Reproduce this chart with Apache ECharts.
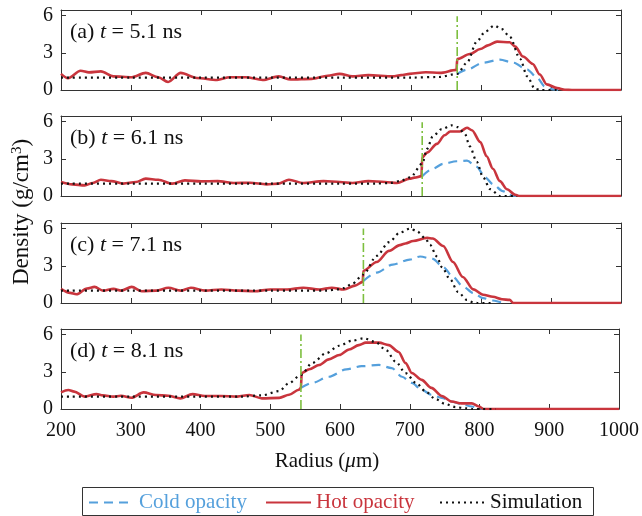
<!DOCTYPE html>
<html><head><meta charset="utf-8">
<script src="https://cdn.jsdelivr.net/npm/echarts@6/dist/echarts.min.js"></script>
<style>html,body{margin:0;padding:0;background:#fff}#c{width:642px;height:516px}</style>
</head><body><div id="c"></div>
<script>
// ---- data ----
const xTicks = [200,300,400,500,600,700,800,900,1000];
const yTicks = [0,3,6];
const panelLetters = ['(a)','(b)','(c)','(d)'];
const panelTimes = ['5.1','6.1','7.1','8.1'];
const frontRadius = [766,716,632,544];
const frontTop = [5.95,5.95,6.0,6.0];

const hotA = [[200,1.3],[210,0.95],[228,1.55],[240,1.42],[257,1.5],[275,1.1],[301,1.03],[321,1.38],[339,1.03],[353,0.65],[371,1.38],[394,0.97],[423,0.81],[441,1.03],[464,1.03],[488,0.81],[511,1.1],[528,0.85],[558,0.9],[581,1.15],[598,1.3],[616,1.1],[639,1.2],[674,1.1],[686,1.2],[698,1.3],[721,1.43],[741,1.38],[765,1.62],[766,2.5],[784,2.9],[799,3.3],[810,3.6],[823,3.9],[841,3.85],[849,3.5],[860,2.7],[874,2.1],[884,1.25],[894,0.45],[909,0.15],[920,0.02],[930,0],[1000,0]];
const coldA = [[766,1.3],[780,1.65],[803,2.2],[827,2.45],[846,2.2],[866,1.65],[880,1.0],[891,0.3],[903,0.05],[910,0]];
const simA = [[200,1],[300,1],[400,1],[500,1],[600,1],[700,1],[740,1.05],[766,1.3],[780,2.2],[794,3.9],[806,4.7],[819,5.2],[830,4.9],[841,4.3],[856,2.5],[866,1.1],[877,0.1],[885,0],[910,0]];

const hotB = [[200,1.13],[216,0.94],[234,0.86],[245.5,1.05],[257,1.31],[272,1.2],[289,1.0],[307,1.13],[321,1.4],[339,1.31],[359,1.0],[377,1.26],[400,1.18],[423.5,1.2],[447,1.05],[470,1.07],[493.5,0.94],[511,1.0],[525.6,1.31],[546,1.05],[575,1.2],[598.5,1.13],[616,1.05],[639,1.2],[663,1.13],[680,1.05],[698,1.4],[705,1.48],[715,1.6],[716,3.1],[723,3.5],[737,4.2],[748,4.9],[756,5.2],[770,5.2],[780,5.5],[787,5.3],[799,4.35],[808,3.2],[817,2.2],[827,1.2],[837,0.55],[849,0.1],[855,0],[1000,0]];
const coldB = [[716,1.6],[731,2.2],[746,2.6],[765,2.8],[780,2.85],[794,2.35],[806,1.5],[817,0.95],[831,0.4],[844,0.05],[850,0]];
const simB = [[200,1],[300,1],[400,1],[500,1],[600,1],[650,1.0],[670,1.05],[684,1.2],[699,1.5],[716,2.6],[723,3.8],[731,4.8],[744,5.4],[758,5.7],[767,5.55],[777,5.0],[784,4.0],[794,2.75],[803,1.5],[813,0.55],[827,0],[850,0]];

const hotC = [[200,1.14],[213,0.82],[222,0.7],[237,1.17],[248,1.3],[260,1.0],[275,1.14],[286,1.0],[301,1.3],[315.5,0.95],[336,1.0],[353.5,1.23],[371,1.0],[385.6,1.23],[406,1.0],[429,1.09],[452.6,1.0],[476,0.95],[499,1.09],[523,1.09],[546,1.23],[569,1.09],[587,1.23],[604,1.09],[620,1.4],[631,1.7],[632,2.6],[651,3.3],[668.5,4.2],[684,4.67],[692,4.8],[703,5.0],[723,5.25],[731,5.2],[746,4.6],[760,3.3],[774,2.1],[789,1.1],[803,0.67],[817,0.5],[830,0.3],[841,0.25],[846,0],[1000,0]];
const coldC = [[632,1.77],[651,2.45],[674,3.1],[698,3.5],[713,3.75],[731,3.55],[746,2.9],[760,2.1],[774,1.35],[789,0.8],[803,0.4],[817,0.2],[831,0.05],[836,0]];
const simC = [[200,1],[300,1],[400,1],[500,1],[580,1.0],[595,1.1],[604,1.2],[616,1.55],[632,2.3],[651,3.8],[668.5,4.9],[684,5.67],[699,6.0],[708,5.8],[720,5.25],[727,4.7],[737,3.75],[744,2.9],[756,1.9],[767,0.9],[780,0.25],[789,0.05],[795,0],[817,0]];

const hotD = [[200,1.34],[210.5,1.53],[219,1.4],[234,1.0],[251,1.2],[260,1.1],[275,1.0],[286,1.07],[301,0.91],[318.5,1.34],[336,1.13],[353.5,1.07],[371,0.86],[388.5,1.2],[406,1.05],[429,1.05],[452.6,1.0],[470,1.13],[488,0.86],[513,0.9],[527,1.15],[541,1.55],[544,1.7],[545,2.9],[556,3.2],[570,3.55],[584,4.0],[599,4.35],[613,4.8],[627,5.15],[637,5.35],[656,5.35],[670,5.15],[684,4.6],[694,3.7],[703,2.9],[717,2.35],[731,1.7],[746,1.05],[760,0.6],[774,0.45],[789,0.45],[799,0.2],[806,0],[1000,0]];
const coldD = [[544,1.7],[560,2.1],[584,2.6],[609,3.2],[631,3.45],[656,3.55],[674,3.3],[689,2.6],[703,2.1],[717,1.55],[731,1.15],[746,0.9],[760,0.6],[774,0.4],[789,0.2],[799,0.05],[805,0]];
const simD = [[200,1],[300,1],[400,1],[460,1.0],[488,1.1],[513,1.45],[527,2.1],[544,2.75],[560,3.7],[580,4.5],[599,5.1],[617,5.5],[634,5.7],[651,5.4],[666,4.75],[680,3.8],[694,2.9],[709,2.1],[723,1.4],[737,0.8],[751,0.4],[766,0.15],[780,0.05],[790,0],[823,0]];

const hotAll = [hotA,hotB,hotC,hotD];
const coldAll = [coldA,coldB,coldC,coldD];
const simAll = [simA,simB,simC,simD];

// ---- layout / style ----
const FONT = 'Liberation Serif';
const RED = '#c9353d', BLUE = '#55a0dc', BLACK = '#111', GREEN = '#7dbf3f', AX = '#333';
const tops = [10, 116, 223, 329];
const H = 80, L = 61, W = 560;
const YMAX = 6.45;

const grids = [], xAxes = [], yAxes = [], series = [], graphics = [];
for (let i = 0; i < 4; i++) {
  grids.push({left: L, top: tops[i], width: W, height: H});
  const last = i === 3;
  xAxes.push({type:'value', gridIndex:i, min:xTicks[0], max:xTicks[xTicks.length-1], interval:xTicks[1]-xTicks[0],
    axisLine:{show:true, onZero:false, lineStyle:{color:AX, width:1}},
    axisTick:{show:true, inside:true, length:5, lineStyle:{color:AX}},
    axisLabel:{show:last, fontFamily:FONT, fontSize:20, color:'#111', margin:12, formatter: v => String(v)},
    splitLine:{show:false}});
  yAxes.push({type:'value', gridIndex:i, min:0, max:YMAX,
    axisLine:{show:true, lineStyle:{color:AX, width:1}},
    axisTick:{show:true, inside:true, length:5, lineStyle:{color:AX}, customValues: yTicks},
    axisLabel:{fontFamily:FONT, fontSize:20, color:'#111', margin:8, customValues: yTicks},
    splitLine:{show:false}});
}
for (let i = 0; i < 4; i++) {
  xAxes.push({type:'value', gridIndex:i, position:'top', min:xTicks[0], max:xTicks[xTicks.length-1], interval:xTicks[1]-xTicks[0],
    axisLine:{show:true, onZero:false, lineStyle:{color:AX, width:1}},
    axisTick:{show:true, inside:true, length:5, lineStyle:{color:AX}},
    axisLabel:{show:false}, splitLine:{show:false}});
  yAxes.push({type:'value', gridIndex:i, position:'right', min:0, max:YMAX,
    axisLine:{show:true, onZero:false, lineStyle:{color:AX, width:1}},
    axisTick:{show:true, inside:true, length:5, lineStyle:{color:AX}, customValues: yTicks},
    axisLabel:{show:false, customValues: yTicks}, splitLine:{show:false}});
}
for (let i = 0; i < 4; i++) {
  const base = {type:'line', xAxisIndex:i, yAxisIndex:i, symbol:'none', showSymbol:false, smooth:0.3, smoothMonotone:'x', silent:true, animation:false};
  series.push(Object.assign({}, base, {name:'Cold opacity', data:coldAll[i], lineStyle:{color:BLUE, width:2.2, type:[9,6]}, itemStyle:{color:BLUE}}));
  series.push(Object.assign({}, base, {name:'Hot opacity', data:hotAll[i], lineStyle:{color:RED, width:2.6}, itemStyle:{color:RED}}));
  series.push(Object.assign({}, base, {name:'Simulation', data:simAll[i], lineStyle:{color:BLACK, width:2.2, type:[2,4]}, itemStyle:{color:BLACK}}));
  series.push(Object.assign({}, base, {name:'front', smooth:false, data:[[frontRadius[i],0],[frontRadius[i],frontTop[i]]], lineStyle:{color:GREEN, width:1.6, type:[9,3,2,3]}}));
  graphics.push({type:'text', left: 70, top: tops[i] + 11, style:{
    text: '{n|' + panelLetters[i] + ' }{i|t}{n| = ' + panelTimes[i] + ' ns}',
    rich:{n:{fontFamily:FONT, fontSize:22, fill:'#111'}, i:{fontFamily:FONT, fontSize:22, fontStyle:'italic', fill:'#111'}}
  }});
}
graphics.push({type:'text', x:327, y:461, style:{
  text:'{n|Radius (}{i|μ}{n|m)}', align:'center', verticalAlign:'middle',
  rich:{n:{fontFamily:FONT, fontSize:21, fill:'#111'}, i:{fontFamily:FONT, fontSize:21, fontStyle:'italic', fill:'#111'}}
}});
graphics.push({type:'text', x:22, y:212, rotation:Math.PI/2, style:{
  text:'{n|Density (g/cm}{s|3}{n|)}', align:'center', verticalAlign:'middle',
  rich:{n:{fontFamily:FONT, fontSize:23, fill:'#111'}, s:{fontFamily:FONT, fontSize:15, fill:'#111', verticalAlign:'top', padding:[0,0,10,0]}}
}});
graphics.push({type:'rect', shape:{x:82.5, y:487.5, width:511, height:28}, style:{fill:'none', stroke:'#333', lineWidth:1}});

const legendBase = {orient:'horizontal', top:492, padding:0, itemWidth:45, itemHeight:14, selectedMode:false,
  itemStyle:{color:'rgba(0,0,0,0)', borderWidth:0, opacity:0}};
const legends = [
  Object.assign({}, legendBase, {left:88, data:[{name:'Cold opacity', textStyle:{color:BLUE, fontFamily:FONT, fontSize:21}}]}),
  Object.assign({}, legendBase, {left:265, data:[{name:'Hot opacity', textStyle:{color:RED, fontFamily:FONT, fontSize:21}}]}),
  Object.assign({}, legendBase, {left:439, data:[{name:'Simulation', textStyle:{color:'#111', fontFamily:FONT, fontSize:21}}]})
];

const chart = echarts.init(document.getElementById('c'), null, {renderer:'canvas'});
chart.setOption({animation:false, backgroundColor:'#fff', grid:grids, xAxis:xAxes, yAxis:yAxes, series:series, graphic:graphics, legend:legends});
</script></body></html>
